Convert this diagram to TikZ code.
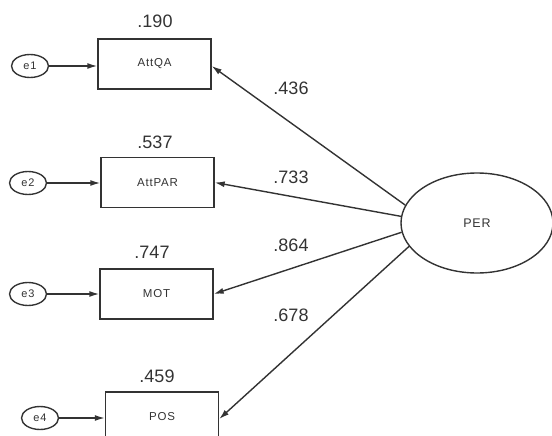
\documentclass[tikz,border=0pt]{standalone}
\usepackage{fontspec}
\setmainfont{Liberation Sans}
\newfontfamily\widefont[LetterSpace=7]{Liberation Sans}
\usetikzlibrary{shapes.geometric,arrows.meta}
\definecolor{ink}{HTML}{333333}
\begin{document}
\begin{tikzpicture}[x=1pt,y=-1pt,
  errnode/.style={ellipse,draw=ink,line width=1.4pt,inner sep=0pt,minimum width=37pt,minimum height=23pt,text=ink,font=\widefont\fontsize{11}{12}\selectfont},
  obsbox/.style={rectangle,draw=ink,line width=1.4pt,inner sep=0pt,minimum width=113pt,minimum height=50pt,text=ink,font=\widefont\fontsize{11.5}{13}\selectfont},
  latent/.style={ellipse,draw=ink,line width=1.4pt,inner sep=0pt,minimum width=152pt,minimum height=100pt,text=ink,font=\widefont\fontsize{12.5}{14}\selectfont},
  val/.style={text=ink,font=\fontsize{18}{20}\selectfont,inner sep=0pt},
  conn/.style={draw=ink,line width=1.4pt,-{Latex[length=10pt,width=6pt]}}
]
\useasboundingbox (0,0) rectangle (552,436);
\node[errnode] (e1) at (30,66) {e1};
\node[errnode] (e2) at (28,183) {e2};
\node[errnode] (e3) at (28,294) {e3};
\node[errnode] (e4) at (40,418) {e4};
\node[obsbox] (attqa) at (154.5,64) {AttQA};
\node[obsbox] (attpar) at (157.5,182.5) {AttPAR};
\node[obsbox] (mot) at (156.5,294) {MOT};
\node[obsbox] (pos) at (162,417) {POS};
\node[latent] (per) at (477,223) {PER};
\node[val] (r1) at (155,21) {.190};
\node[val] (r2) at (155,142) {.537};
\node[val] (r3) at (152,252) {.747};
\node[val] (r4) at (157,376) {.459};
\node[val] (l1) at (291,88) {.436};
\node[val] (l2) at (291,177) {.733};
\node[val] (l3) at (291,245) {.864};
\node[val] (l4) at (291,315) {.678};
\draw[conn] (e1.east) -- (e1.east -| attqa.west);
\draw[conn] (e2.east) -- (e2.east -| attpar.west);
\draw[conn] (e3.east) -- (e3.east -| mot.west);
\draw[conn] (e4.east) -- (e4.east -| pos.west);
\draw[conn] (per.166) -- ([yshift=-2pt]attqa.east);
\draw[conn] (per.175.5) -- (attpar.east);
\draw[conn] (per.187.5) -- (mot.east);
\draw[conn] (per.199) -- ([yshift=-2pt]pos.east);
\end{tikzpicture}
\end{document}
